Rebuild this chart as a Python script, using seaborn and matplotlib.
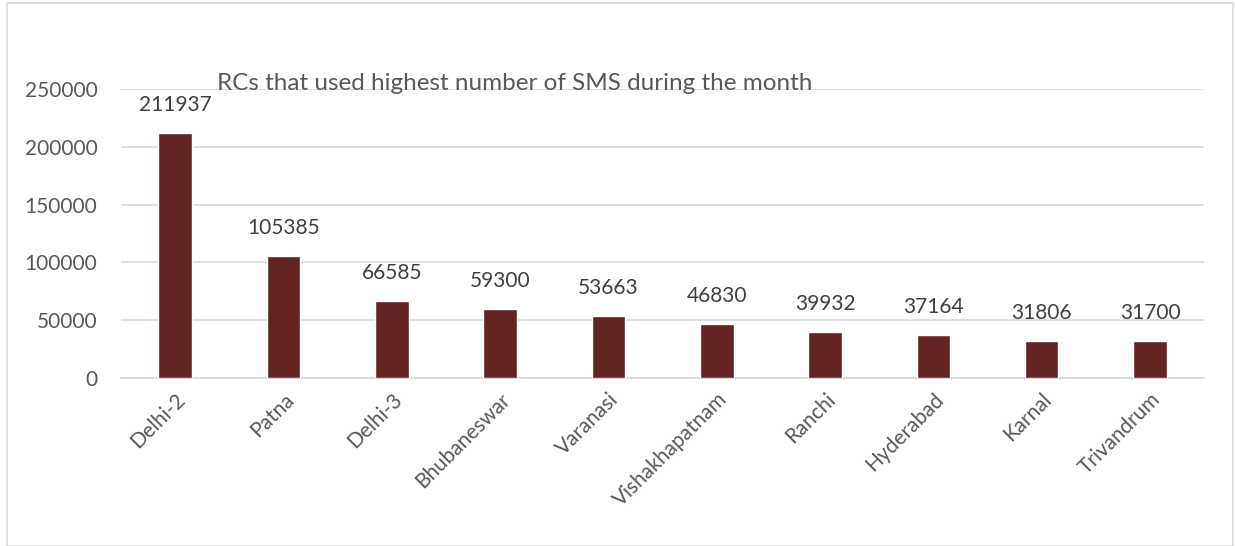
import matplotlib
matplotlib.use("Agg")
import matplotlib.pyplot as plt
import seaborn as sns
import pandas as pd
from matplotlib.patches import Rectangle

# data
centres = ["Delhi-2", "Patna", "Delhi-3", "Bhubaneswar", "Varanasi",
           "Vishakhapatnam", "Ranchi", "Hyderabad", "Karnal", "Trivandrum"]
sms_count = [211937, 105385, 66585, 59300, 53663, 46830, 39932, 37164, 31806, 31700]
y_ticks = [0, 50000, 100000, 150000, 200000, 250000]

sns.set_theme(style="white")
plt.rcParams["font.family"] = ["Lato", "DejaVu Sans"]

df = pd.DataFrame({"rc": centres, "sms": sms_count})

fig = plt.figure(figsize=(12.35, 5.46), dpi=100)
ax = fig.add_axes([0.098, 0.3077, 0.877, 0.5293])

sns.barplot(data=df, x="rc", y="sms", color="#632523", width=0.31,
            saturation=1, ax=ax, zorder=3)

ax.set_ylim(0, 250000)
ax.set_yticks(y_ticks)
ax.set_yticklabels([str(t) for t in y_ticks])
ax.set_xlim(-0.5, len(centres) - 0.5)
ax.yaxis.grid(True, color="#d9d9d9", linewidth=1.2, zorder=0)
ax.set_axisbelow(True)
for s in ["top", "right", "left"]:
    ax.spines[s].set_visible(False)
ax.spines["bottom"].set_color("#d9d9d9")
ax.spines["bottom"].set_linewidth(1.2)
ax.tick_params(axis="both", length=0, labelsize=15, colors="#595959")
ax.tick_params(axis="y", pad=17)
ax.tick_params(axis="x", pad=8)
plt.setp(ax.get_xticklabels(), rotation=45, ha="right", rotation_mode="anchor")
ax.set_xlabel("")
ax.set_ylabel("")

# value labels above bars
for c in ax.containers:
    ax.bar_label(c, labels=[str(v) for v in sms_count], padding=13,
                 fontsize=15, color="#404040")

fig.text(217 / 1235, 1 - 90 / 546, "RCs that used highest number of SMS during the month",
         fontsize=17.5, color="#595959", ha="left", va="baseline")

# chart border
fig.patches.append(Rectangle((7 / 1235, 0), 1226 / 1235, 1 - 3 / 546,
                             transform=fig.transFigure, fill=False,
                             edgecolor="#d9d9d9", linewidth=1.2))

fig.savefig("out.png", dpi=100, facecolor="white")
